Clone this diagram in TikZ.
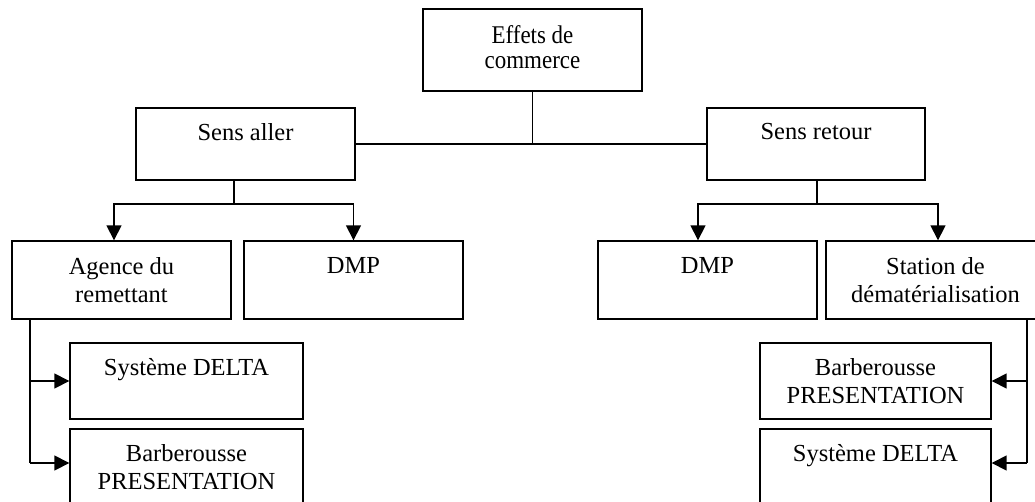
\documentclass[tikz,border=0pt]{standalone}
\usepackage{fontspec}
\setmainfont{Liberation Serif}
\usetikzlibrary{arrows.meta,calc}
\tikzset{
  box/.style={draw, line width=1.4pt, rectangle, inner sep=0pt},
  txt/.style={anchor=north, inner sep=0pt, align=center,
              font=\fontsize{24.5}{28}\selectfont},
  tallfont/.style={anchor=north, inner sep=0pt,
              font=\fontsize{25.5}{25}\selectfont},
  conn/.style={line width=1.6pt},
  arr/.style={conn, -{Triangle[length=15pt,width=15pt]}},
}
% box from two corners (x1,y1) (x2,y2), y measured downwards
\newcommand{\mybox}[5]{%
  \node[box, minimum width={(#4-#2)*1pt}, minimum height={(#5-#3)*1pt}]
    (#1) at ({(#2+#4)/2}, {-(#3+#5)/2}) {};}
\begin{document}
\begin{tikzpicture}[x=1pt,y=1pt]
\useasboundingbox (0,0) rectangle (1035,-501);
\clip (0,0) rectangle (1035,-501);

% boxes
\mybox{eff}{423}{9}{642}{91}
\mybox{sa}{136}{108}{355}{180}
\mybox{sr}{707}{108}{925}{180}
\mybox{ag}{12}{241}{231}{319}
\mybox{dmpl}{244}{241}{463}{319}
\mybox{dmpr}{598}{241}{817}{319}
\mybox{st}{826}{241}{1045}{319}
\mybox{sdl}{70}{343}{303}{419}
\mybox{bpl}{70}{429}{303}{505}
\mybox{bpr}{760}{343}{991}{419}
\mybox{sdr}{760}{429}{991}{505}

% labels
\node[tallfont] at ($(eff.north)+(0,-17)$)
  {\scalebox{0.9}[1]{\begin{tabular}{@{}c@{}}Effets de\\commerce\end{tabular}}};
\node[txt] at ($(sa.north)+(0,-16)$) {Sens aller};
\node[txt] at ($(sr.north)+(0,-16)$) {Sens retour};
\node[txt] at ($(ag.north)+(0,-17)$) {Agence du\\remettant};
\node[txt] at ($(dmpl.north)+(0,-17)$) {DMP};
\node[txt] at ($(dmpr.north)+(0,-17)$) {DMP};
\node[txt] at ($(st.north)+(0,-17)$) {Station de\\dématérialisation};
\node[txt] at ($(sdl.north)+(0,-16)$) {Système DELTA};
\node[txt] at ($(bpl.north)+(0,-16)$) {Barberousse\\PRESENTATION};
\node[txt] at ($(bpr.north)+(0,-16)$) {Barberousse\\PRESENTATION};
\node[txt] at ($(sdr.north)+(0,-16)$) {Système DELTA};

% junction points
\coordinate (jl) at (234,-204);
\coordinate (jr) at (817,-204);
\coordinate (al) at (114,0);
\coordinate (ar) at (698,0);
\coordinate (as) at (938,0);
\coordinate (vl) at (30,0);
\coordinate (vr) at (1027,0);
\coordinate (lo) at (0,-463);

% top level
\draw[conn] (sa.east) -- (sr.west);
\draw[conn] (eff.south) -- (eff.south |- sa.east);

% sens aller
\draw[conn] (sa.south -| jl) -- (jl);
\draw[arr] (jl) -| (ag.north -| al);
\draw[arr] (jl) -| (dmpl.north);

% sens retour
\draw[conn] (sr.south -| jr) -- (jr);
\draw[arr] (jr) -| (dmpr.north -| ar);
\draw[arr] (jr) -| (st.north -| as);

% agence du remettant
\draw[conn] (ag.south -| vl) -- (vl |- lo);
\draw[arr] (vl |- sdl.west) -- (sdl.west);
\draw[arr] (vl |- lo) -- (bpl.west |- lo);

% station de dematerialisation
\draw[conn] (st.south -| vr) -- (vr |- lo);
\draw[arr] (vr |- bpr.east) -- (bpr.east);
\draw[arr] (vr |- lo) -- (sdr.east |- lo);
\end{tikzpicture}
\end{document}
